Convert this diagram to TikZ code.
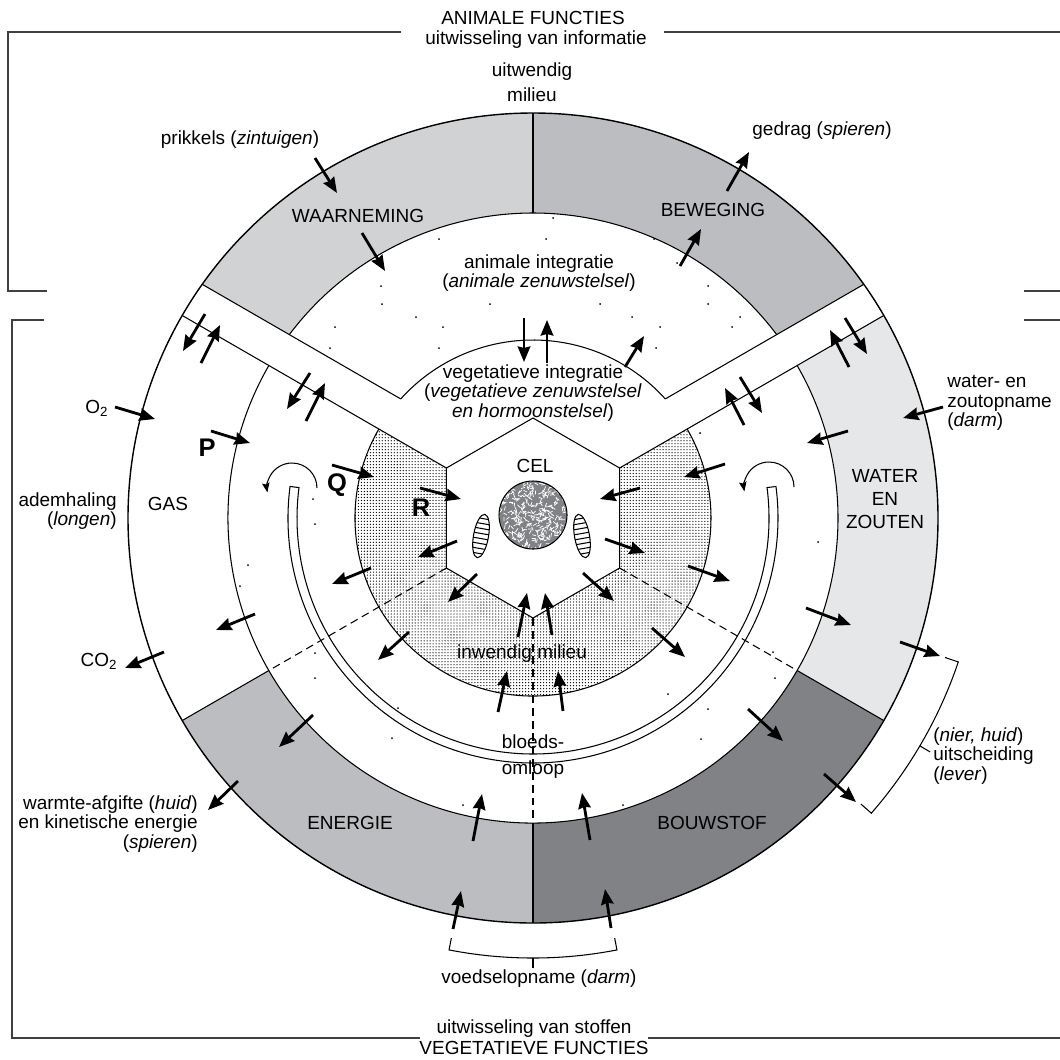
\documentclass[tikz,border=0pt]{standalone}
\usepackage{fontspec}
\setmainfont{Liberation Sans}
\usetikzlibrary{arrows.meta,patterns.meta}

\definecolor{waargray}{HTML}{D1D2D4}
\definecolor{bewgray}{HTML}{BCBDC0}
\definecolor{watgray}{HTML}{E6E7E8}
\definecolor{bouwgray}{HTML}{808285}
\definecolor{nucgray}{HTML}{808285}

\begin{document}
\begin{tikzpicture}[x=0.02cm, y=-0.02cm,
    font=\fontsize{10.8}{11}\selectfont,
    every node/.style={inner sep=0pt},
    flow/.style={line width=1.6pt, -{Stealth[length=0.31cm, width=0.25cm, inset=0.03cm]}},
    turn/.style={line width=0.6pt, -{Stealth[length=0.19cm, width=0.15cm, inset=0.03cm]}},
    edge/.style={line width=0.6pt},
    frame/.style={line width=0.8pt, black!75},
    letter/.style={font=\fontsize{14.5}{14.5}\bfseries\selectfont}]

  \useasboundingbox (0,0) rectangle (1060,1059);

  % kaders
  \draw[frame] (47,291) -| (8,32) -- (401,32);
  \draw[frame] (664,32) -- (1060,32);
  \draw[frame] (1024,291) -- (1060,291);
  \draw[frame] (44,320) -| (12,1038) -- (420,1038);
  \draw[frame] (648,1038) -- (1060,1038);
  \draw[frame] (1024,320) -- (1060,320);

  \begin{scope}[shift={(533,518)}, yscale=-1]
    \pgfmathsetmacro\la{150-asin(37/405)}
    \pgfmathsetmacro\lb{150-asin(37/305)}
    \pgfmathsetmacro\lc{150-asin(37/178)}
    \pgfmathsetmacro\ra{30+asin(37/405)}
    \pgfmathsetmacro\rb{30+asin(37/305)}
    \pgfmathsetmacro\rc{30+asin(37/178)}

    \fill[waargray] (\la:405) arc[start angle=\la, end angle=90, radius=405] -- (90:305) arc[start angle=90, end angle=\lb, radius=305] -- cycle;
    \fill[bewgray] (90:405) arc[start angle=90, end angle=\ra, radius=405] -- (\rb:305) arc[start angle=\rb, end angle=90, radius=305] -- cycle;
    \fill[watgray] (30:405) arc[start angle=30, end angle=-30, radius=405] -- (-30:305) arc[start angle=-30, end angle=30, radius=305] -- cycle;
    \fill[bouwgray] (-30:405) arc[start angle=-30, end angle=-90, radius=405] -- (-90:305) arc[start angle=-90, end angle=-30, radius=305] -- cycle;
    \fill[bewgray] (-90:405) arc[start angle=-90, end angle=-150, radius=405] -- (-150:305) arc[start angle=-150, end angle=-90, radius=305] -- cycle;

    \fill[pattern={Dots[distance=1.7pt, radius=0.37pt]}] (150:178) arc[start angle=150, end angle=390, radius=178] -- (30:100) -- (-30:100) -- (-90:100) -- (-150:100) -- (150:100) -- cycle;

    \draw[line width=0.8pt] (0,0) circle[radius=405];
    \draw[edge] (\lb:305) arc[start angle=\lb, end angle=\rb, radius=305];
    \draw[edge] (150:305) arc[start angle=150, end angle=390, radius=305];
    \draw[edge] (\lc:178) arc[start angle=\lc, end angle=\rc, radius=178];
    \draw[edge] (150:178) arc[start angle=150, end angle=390, radius=178];
    \draw[edge] (\la:405) -- (\lc:178);
    \draw[edge] (\ra:405) -- (\rc:178);
    \draw[edge] (150:405) -- (150:100);
    \draw[edge] (30:405) -- (30:100);
    \draw[edge] (90:100) -- (150:100) -- (210:100) -- (270:100) -- (330:100) -- (30:100) -- cycle;
    \foreach \t in {90,210,270,330}
      \draw[edge] (\t:305) -- (\t:405);

    % bloedsomloop
    \draw[edge] (172.6:245) arc[start angle=172.6, end angle=367.4, radius=245] -- (367.4:236) arc[start angle=367.4, end angle=172.6, radius=236] -- cycle;

    \foreach \t in {210,270,330}
      \draw[edge, dash pattern=on 4.5pt off 2.8pt] (\t:100) -- (\t:305);

    % haken
    \draw[edge] (-18.7:435) -- (-18.7:449) arc[start angle=-18.7, end angle=-41.1, radius=449] -- (-41.1:435);
    \draw[edge] (-30.5:449) -- (-30.5:461);
    \draw[edge] (259:428) -- (259:440) arc[start angle=259, end angle=281, radius=440] -- (281:428);
    \draw[edge] (270:440) -- (270:450);
  \end{scope}

  % losse stipjes
  \foreach \p in {(553,218),(439,239),(546,239),(654,239),(677,263),(381,286),(708,286),(382,304),(490,304),(600,304),(708,304),(416,317),(632,317),(740,317),(443,327),(660,327),(335,327),(732,327),(330,348),(439,348),(656,348),
                  (313,499),(315,524),(248,565),(240,586),(315,653),(315,678),(392,738),(398,708),(463,805),(818,542),(700,433),(773,652),(775,678),(668,694),(701,739),(623,805),(708,709)}
    \fill \p circle[radius=1];

  % kern
  \begin{scope}
    \clip (533,515) circle[radius=34];
    \fill[nucgray] (533,515) circle[radius=34];
    \pgfmathsetseed{7}
    \foreach \i in {1,...,420}{
      \pgfmathsetmacro\px{533+36*rand}
      \pgfmathsetmacro\py{515+36*rand}
      \pgfmathsetmacro\pa{180*rand}
      \draw[white, line width=0.42pt] (\px,\py) -- ++(\pa:4);
    }
  \end{scope}
  \draw[edge] (533,515) circle[radius=34];

  \begin{scope}[shift={(481,536)}, rotate=-10]
    \draw[edge] (0,0) ellipse[x radius=7.5, y radius=22];
    \clip (0,0) ellipse[x radius=7.5, y radius=22];
    \foreach \k in {-17.5,-12.5,...,17.5}
      \draw[edge] (-9,\k) -- (9,\k);
  \end{scope}
  \begin{scope}[shift={(582,536)}, rotate=10]
    \draw[edge] (0,0) ellipse[x radius=7.5, y radius=22];
    \clip (0,0) ellipse[x radius=7.5, y radius=22];
    \foreach \k in {-17.5,-12.5,...,17.5}
      \draw[edge] (-9,\k) -- (9,\k);
  \end{scope}

  \draw[turn] (317,488) arc[start angle=0, end angle=-190, radius=25];
  \draw[turn] (794,487) arc[start angle=0, end angle=-190, radius=25];

  % pijlen
  \draw[flow] (315,158) -- (337,193);
  \draw[flow] (362,233) -- (385,271);
  \draw[flow] (727,191) -- (749,152);
  \draw[flow] (680,266) -- (701,229);
  \draw[flow] (524,318) -- (524,362);
  \draw[flow] (547,363) -- (547,320);
  \draw[flow] (625,367) -- (644,336);

  \draw[flow] (205,314) -- (183,351);
  \draw[flow] (201,363) -- (220,325);
  \draw[flow] (310,373) -- (287,409);
  \draw[flow] (306,421) -- (325,383);
  \draw[flow] (849,367) -- (830,330);
  \draw[flow] (845,318) -- (867,354);
  \draw[flow] (744,425) -- (725,388);
  \draw[flow] (740,377) -- (762,413);

  \draw[flow] (115,407) -- (155,419);
  \draw[flow] (211,431) -- (250,443);
  \draw[flow] (332,465) -- (374,477);
  \draw[flow] (420,488) -- (461,499);
  \draw[flow] (457,541) -- (418,557);
  \draw[flow] (371,568) -- (332,584);
  \draw[flow] (255,614) -- (216,630);
  \draw[flow] (164,652) -- (125,668);
  \draw[flow] (477,574) -- (448,602);
  \draw[flow] (409,632) -- (378,660);

  \draw[flow] (943,407) -- (903,418);
  \draw[flow] (848,431) -- (807,443);
  \draw[flow] (725,464) -- (684,477);
  \draw[flow] (640,488) -- (600,499);
  \draw[flow] (605,539) -- (645,553);
  \draw[flow] (688,566) -- (730,581);
  \draw[flow] (806,608) -- (851,625);
  \draw[flow] (900,642) -- (940,656);
  \draw[flow] (583,573) -- (614,601);
  \draw[flow] (652,628) -- (685,657);

  \draw[flow] (518,637) -- (527,593);
  \draw[flow] (552,635) -- (545,593);
  \draw[flow] (498,712) -- (507,671);
  \draw[flow] (563,711) -- (558,671);

  \draw[flow] (313,715) -- (279,747);
  \draw[flow] (238,781) -- (208,810);
  \draw[flow] (473,841) -- (482,794);
  \draw[flow] (453,929) -- (461,891);
  \draw[flow] (590,840) -- (582,793);
  \draw[flow] (611,928) -- (605,889);
  \draw[flow] (748,709) -- (783,741);
  \draw[flow] (824,774) -- (856,802);

  % teksten
  \node (animtitle) at (533,18) {ANIMALE FUNCTIES};
  \node (animsub) at (536,40) {uitwisseling van informatie};
  \node (outside) at (532,72) {uitwendig};
  \node (outsidetwo) at (532,95) {milieu};
  \node (stimuli) at (240,140) {prikkels (\textit{zintuigen})};
  \node (behaviour) at (822,131) {gedrag (\textit{spieren})};
  \node (perception) at (358,216) {WAARNEMING};
  \node (movement) at (713,210) {BEWEGING};
  \node[align=center] (animint) at (539,273) {animale integratie\\(\textit{animale zenuwstelsel})};
  \node[align=center] (vegint) at (533,393) {vegetatieve integratie\\(\textit{vegetatieve zenuwstelsel}\\\textit{en hormoonstelsel})};
  \node (cell) at (535,466) {CEL};
  \node (inner) at (522,654) {inwendig milieu};
  \node (blood) at (533,742) {bloeds-};
  \node (bloodtwo) at (533,770) {omloop};
  \node (energy) at (350,823) {ENERGIE};
  \node (matter) at (712,823) {BOUWSTOF};
  \node[align=right, anchor=east] (heat) at (198,824) {warmte-afgifte (\textit{huid})\\en kinetische energie\\(\textit{spieren})};
  \node (food) at (539,979) {voedselopname (\textit{darm})};
  \node (vegsub) at (534,1029) {uitwisseling van stoffen};
  \node (vegtitle) at (534,1048) {VEGETATIEVE FUNCTIES};
  \node[align=left, anchor=west] (excretion) at (933,756) {(\textit{nier, huid})\\uitscheiding\\(\textit{lever})};
  \node[align=left, anchor=west] (intake) at (947,403) {water- en\\zoutopname\\(\textit{darm})};
  \node[align=center, font=\fontsize{10.8}{13.3}\selectfont] (water) at (885,499) {WATER\\EN\\ZOUTEN};
  \node[align=right, anchor=east] (breathing) at (117,511) {ademhaling\\(\textit{longen})};
  \node (gas) at (168,504) {GAS};
  \node (oxygen) at (97,408) {O\textsubscript{2}};
  \node (carbon) at (99,661) {CO\textsubscript{2}};
  \node[letter] (markp) at (207,448) {P};
  \node[letter] (markq) at (337,485) {Q};
  \node[letter] (markr) at (421,508) {R};
\end{tikzpicture}
\end{document}
